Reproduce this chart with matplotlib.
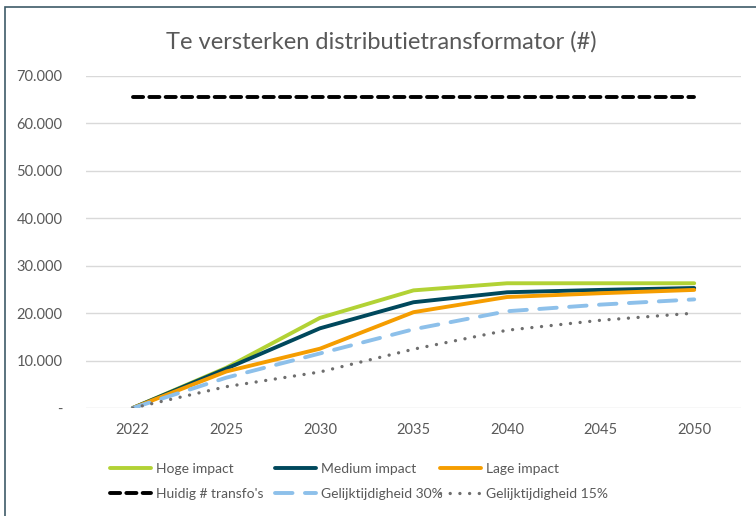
import matplotlib.pyplot as plt
from matplotlib.patches import Rectangle
from matplotlib.ticker import FuncFormatter

plt.rcParams['font.family'] = ['Lato', 'DejaVu Sans']

years = ['2022', '2025', '2030', '2035', '2040', '2045', '2050']
hoge = [0, 8500, 19000, 24800, 26300, 26300, 26300]
medium = [0, 8300, 16800, 22300, 24400, 24900, 25300]
lage = [0, 7700, 12500, 20200, 23400, 24200, 24900]
huidig = [65500] * 7
gelijk30 = [0, 6400, 11500, 16600, 20400, 21800, 22900]
gelijk15 = [0, 4500, 7600, 12400, 16400, 18500, 20000]

txt = '#595959'
fig = plt.figure(figsize=(7.56, 5.16), dpi=100)
ax = fig.add_axes([86 / 756, 1 - 408 / 516, 655 / 756, 332 / 516])

x = range(len(years))
l1, = ax.plot(x, hoge, color='#B2D235', lw=2.8, label='Hoge impact', solid_capstyle='round')
l2, = ax.plot(x, medium, color='#00485C', lw=2.8, label='Medium impact', solid_capstyle='round')
l3, = ax.plot(x, lage, color='#F59D00', lw=2.8, label='Lage impact', solid_capstyle='round')
l4, = ax.plot(x, huidig, color='black', lw=2.8, dashes=(2.6, 1.6), label="Huidig # transfo's",
              dash_capstyle='round')
l5, = ax.plot(x, gelijk30, color='#8DC0EA', lw=2.8, dashes=(4.5, 3.2), label='Gelijktijdigheid 30%',
              dash_capstyle='round')
l6, = ax.plot(x, gelijk15, color='#6E6E6E', lw=2.4, dashes=(0.01, 2.9), label='Gelijktijdigheid 15%',
              dash_capstyle='round')

ax.set_xlim(-0.5, len(years) - 0.5)
ax.set_ylim(0, 70000)
ax.set_xticks(list(x))
ax.set_xticklabels(years)
ax.set_yticks(range(0, 70001, 10000))
ax.yaxis.set_major_formatter(FuncFormatter(
    lambda v, p: '-' if v == 0 else f'{int(v):,}'.replace(',', '.')))
ax.tick_params(axis='both', length=0, labelsize=10.5, labelcolor=txt)
ax.tick_params(axis='y', pad=17)
ax.tick_params(axis='x', pad=11)
ax.grid(axis='y', color='#D9D9D9', lw=1)
ax.set_axisbelow(True)
for s in ax.spines.values():
    s.set_visible(False)

fig.text(381 / 756, 1 - 42 / 516, 'Te versterken distributietransformator (#)',
         ha='center', va='center', fontsize=17, color=txt)

# three legend columns, Excel style (equal column starts)
for col, pair in zip([100, 265, 430], [(l1, l4), (l2, l5), (l3, l6)]):
    leg = fig.legend(handles=list(pair), labels=[h.get_label() for h in pair],
                     loc='upper left', bbox_to_anchor=(col / 756, 1 - 453 / 516),
                     frameon=False, fontsize=10, labelcolor=txt, handlelength=3.0,
                     handletextpad=0.3, labelspacing=0.95, borderpad=0.2)

fig.patches.append(Rectangle((5 / 756, -0.1), 1.2, 1.1 - 7 / 516, transform=fig.transFigure,
                             fill=False, edgecolor='#3E5B68', lw=1.2))

fig.savefig('out.png', dpi=100)
